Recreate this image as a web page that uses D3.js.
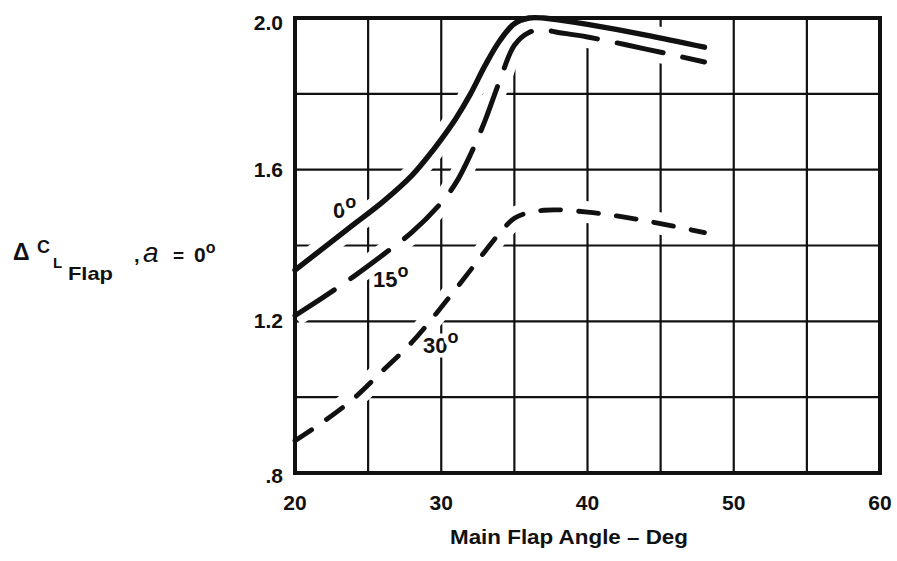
<!DOCTYPE html>
<html><head><meta charset="utf-8">
<script src="https://cdn.jsdelivr.net/npm/d3@7"></script>
<style>
body{margin:0;background:#fff;}
text{font-family:"Liberation Sans",Arial,Helvetica,sans-serif;fill:#111;}
</style></head>
<body>
<svg id="chart" width="897" height="561"></svg>
<script>
// ---- data ----
const xTickValues = [20, 30, 40, 50, 60];
const yTickValues = [0.8, 1.2, 1.6, 2.0];
const yTickLabels = [".8", "1.2", "1.6", "2.0"];
const xGridValues = [20, 25, 30, 35, 40, 45, 50, 55, 60];
const yGridValues = [0.8, 1.0, 1.2, 1.4, 1.6, 1.8, 2.0];

const angle0 = [20, 22, 24, 26, 28, 29, 30, 31, 32, 33, 34, 35, 36, 37, 38, 40, 44, 48];
const cl0    = [1.335, 1.395, 1.455, 1.515, 1.585, 1.63, 1.68, 1.735, 1.80, 1.875, 1.94, 1.985, 2.0, 2.0, 1.995, 1.983, 1.955, 1.923];

const angle15 = [20, 22, 24, 26, 28, 30, 31, 32, 33, 34, 35, 36, 37, 38, 40, 44, 48];
const cl15    = [1.215, 1.265, 1.318, 1.375, 1.435, 1.513, 1.565, 1.64, 1.73, 1.835, 1.928, 1.962, 1.968, 1.962, 1.95, 1.918, 1.884];

const angle30 = [20, 22, 24, 26, 28, 30, 32, 33, 34, 35, 36, 37, 38, 40, 42, 44, 46, 48];
const cl30    = [0.885, 0.937, 0.996, 1.07, 1.145, 1.237, 1.335, 1.385, 1.433, 1.472, 1.487, 1.493, 1.494, 1.488, 1.478, 1.465, 1.45, 1.434];

const seriesNames = ["0", "15", "30"];
const labelAngle = [22.6, 25.33, 28.75];
const labelCl = [1.473, 1.291, 1.117];

// ---- layout ----
const svg = d3.select("#chart");
const pL = 295, pR = 880, pT = 18, pB = 473;
const x = d3.scaleLinear().domain([20, 60]).range([pL, pR]);
const y = d3.scaleLinear().domain([0.8, 2.0]).range([pB, pT]);

// grid
svg.append("g").selectAll("line").data(xGridValues).join("line")
  .attr("x1", d => x(d)).attr("x2", d => x(d)).attr("y1", pT).attr("y2", pB)
  .attr("stroke", "#111").attr("stroke-width", 2.2);
svg.append("g").selectAll("line").data(yGridValues).join("line")
  .attr("y1", d => y(d)).attr("y2", d => y(d)).attr("x1", pL).attr("x2", pR)
  .attr("stroke", "#111").attr("stroke-width", 2.2);

const line = d3.line().x(d => x(d[0])).y(d => y(d[1])).curve(d3.curveCatmullRom.alpha(0.5));
const series = [
  {name: seriesNames[0], pts: d3.zip(angle0, cl0), dash: null, w: 5.4},
  {name: seriesNames[1], pts: d3.zip(angle15, cl15), dash: "47,20", w: 5},
  {name: seriesNames[2], pts: d3.zip(angle30, cl30), dash: "20,18", w: 4.8}
];

// halos (erase grid near curves, as in the original drawing)
svg.append("g").selectAll("path").data(series).join("path")
  .attr("d", d => line(d.pts)).attr("fill", "none")
  .attr("stroke", "#fff").attr("stroke-width", 22).attr("stroke-linecap", "butt");

// frame
svg.append("rect").attr("x", pL).attr("y", pT)
  .attr("width", pR - pL).attr("height", pB - pT)
  .attr("fill", "none").attr("stroke", "#111").attr("stroke-width", 4);

// curves
svg.append("g").selectAll("path").data(series).join("path")
  .attr("d", d => line(d.pts)).attr("fill", "none")
  .attr("stroke", "#111").attr("stroke-width", d => d.w)
  .attr("stroke-linecap", "round")
  .attr("stroke-dasharray", d => d.dash);

// curve labels
seriesNames.forEach((n, i) => {
  const tx = svg.append("text").attr("x", x(labelAngle[i])).attr("y", y(labelCl[i]))
    .attr("font-size", 22).attr("font-weight", "bold")
    .attr("stroke", "#fff").attr("stroke-width", 9).attr("paint-order", "stroke")
    .attr("stroke-linejoin", "round");
  tx.append("tspan").text(n);
  tx.append("tspan").attr("font-size", 18).attr("dy", -10).attr("dx", 0).text("o");
});

// y tick labels
const yOff = [10, 7, 7, 12];
svg.append("g").selectAll("text").data(yTickValues).join("text")
  .attr("x", pL - 12).attr("y", (d, i) => y(d) + yOff[i])
  .attr("text-anchor", "end").attr("font-size", 21).attr("font-weight", "bold")
  .text((d, i) => yTickLabels[i]);

// x tick labels
svg.append("g").selectAll("text").data(xTickValues).join("text")
  .attr("x", d => x(d)).attr("y", pB + 37)
  .attr("text-anchor", "middle").attr("font-size", 21).attr("font-weight", "bold")
  .text(d => d);

// x axis title
svg.append("text").attr("x", 450).attr("y", 544)
  .attr("font-size", 19.5).attr("font-weight", "bold")
  .attr("textLength", 238).attr("lengthAdjust", "spacingAndGlyphs")
  .text("Main Flap Angle \u2013 Deg");

// y axis title
const yt = svg.append("g").attr("font-weight", "bold");
yt.append("text").attr("x", 13).attr("y", 260).attr("font-size", 23).text("\u0394");
yt.append("text").attr("x", 37).attr("y", 253).attr("font-size", 18).text("C");
yt.append("text").attr("x", 53).attr("y", 268).attr("font-size", 15).text("L");
yt.append("text").attr("x", 68).attr("y", 280).attr("font-size", 19)
  .attr("textLength", 45).attr("lengthAdjust", "spacingAndGlyphs").text("Flap");
yt.append("text").attr("x", 134).attr("y", 262).attr("font-size", 20).text(",");
yt.append("text").attr("x", 143).attr("y", 262).attr("font-size", 28)
  .attr("font-style", "italic").attr("font-weight", "normal")
  .attr("font-family", "'Liberation Serif',serif").text("a");
yt.append("text").attr("x", 173).attr("y", 262).attr("font-size", 19).text("=");
const z = yt.append("text").attr("x", 194).attr("y", 262).attr("font-size", 21);
z.append("tspan").text("0");
z.append("tspan").attr("font-size", 16).attr("dy", -9).text("o");
</script>
</body></html>
